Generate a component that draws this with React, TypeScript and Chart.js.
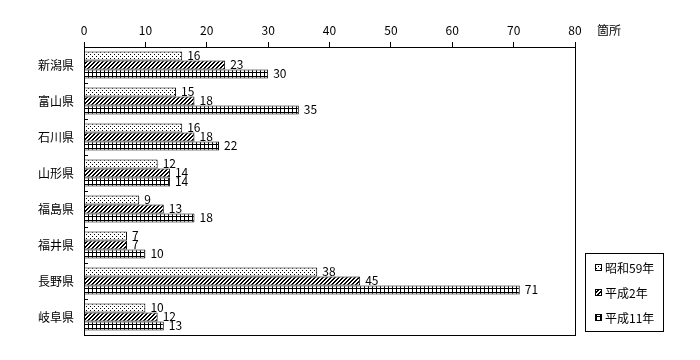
import React, { useEffect, useRef } from 'react';
import { Chart, registerables } from 'chart.js';

Chart.register(...registerables);

const categories = ['新潟県', '富山県', '石川県', '山形県', '福島県', '福井県', '長野県', '岐阜県'];
const seriesNames = ['昭和59年', '平成2年', '平成11年'];
const showa59 = [16, 15, 16, 12, 9, 7, 38, 10];
const heisei2 = [23, 18, 18, 14, 13, 7, 45, 12];
const heisei11 = [30, 35, 22, 14, 18, 10, 71, 13];
const xMin = 0;
const xMax = 80;
const xStep = 10;
const unitLabel = '箇所';

const FONT = '"Noto Sans CJK JP", "DejaVu Sans", sans-serif';

function makePattern(kind: string): CanvasPattern | string {
  const c = document.createElement('canvas');
  c.width = 4;
  c.height = 4;
  const g = c.getContext('2d');
  if (!g) return '#fff';
  g.fillStyle = '#fff';
  g.fillRect(0, 0, 4, 4);
  g.fillStyle = '#000';
  if (kind === 'dots') {
    g.fillRect(0, 0, 1, 1);
    g.fillRect(2, 2, 1, 1);
  } else if (kind === 'hatch') {
    // diagonal "/" lines, 2px thick, period 4
    for (let y = 0; y < 4; y++) {
      const x = (3 - y + 4) % 4;
      g.fillRect(x, y, 1, 1);
      g.fillRect((x + 1) % 4, y, 1, 1);
    }
  } else if (kind === 'grid') {
    g.fillRect(0, 0, 4, 1);
    g.fillRect(0, 0, 1, 4);
  }
  const p = g.createPattern(c, 'repeat');
  return p || '#fff';
}

export default function App() {
  const ref = useRef<HTMLCanvasElement | null>(null);

  useEffect(() => {
    document.body.style.margin = '0';
    const canvas = ref.current;
    if (!canvas) return;
    const patterns = [makePattern('dots'), makePattern('hatch'), makePattern('grid')];
    const seriesData = [showa59, heisei2, heisei11];

    const overlay = {
      id: 'overlay',
      afterDatasetsDraw(chart: any) {
        const ctx = chart.ctx as CanvasRenderingContext2D;
        const area = chart.chartArea;
        ctx.save();
        // value labels
        ctx.font = `12px ${FONT}`;
        ctx.fillStyle = '#000';
        ctx.textAlign = 'left';
        ctx.textBaseline = 'middle';
        chart.data.datasets.forEach((ds: any, di: number) => {
          const meta = chart.getDatasetMeta(di);
          meta.data.forEach((bar: any, i: number) => {
            ctx.fillText(String(ds.data[i]), bar.x + 5, bar.y - 1);
          });
        });
        // plot border
        ctx.strokeStyle = '#000';
        ctx.lineWidth = 1;
        ctx.strokeRect(
          Math.round(area.left) + 0.5,
          Math.round(area.top) + 0.5,
          Math.round(area.right - area.left),
          Math.round(area.bottom - area.top)
        );
        // category boundary ticks (inside)
        const band = (area.bottom - area.top) / categories.length;
        for (let i = 1; i < categories.length; i++) {
          const y = Math.round(area.top + band * i) + 0.5;
          ctx.beginPath();
          ctx.moveTo(area.left, y);
          ctx.lineTo(area.left + 4, y);
          ctx.stroke();
        }
        // unit label
        ctx.textAlign = 'left';
        ctx.font = `12px ${FONT}`;
        ctx.fillText(unitLabel, 597, 30);
        // legend
        const lx = 585.5;
        const ly = 253.5;
        ctx.strokeRect(lx, ly, 78, 78);
        const rows = [268, 293, 318];
        seriesNames.forEach((name, i) => {
          const y = rows[i];
          ctx.fillStyle = patterns[i] as any;
          ctx.fillRect(595, y - 4, 7, 7);
          ctx.strokeStyle = '#000';
          ctx.strokeRect(595.5, y - 3.5, 6, 6);
          ctx.fillStyle = '#000';
          ctx.fillText(name, 605, y);
        });
        ctx.restore();
      },
    };

    const chart = new Chart(canvas, {
      type: 'bar',
      data: {
        labels: categories,
        datasets: seriesNames.map((name, i) => ({
          label: name,
          data: seriesData[i],
          backgroundColor: patterns[i] as any,
          borderColor: '#000',
          borderWidth: 1,
          categoryPercentage: 0.75,
          barPercentage: 1,
        })),
      },
      options: {
        indexAxis: 'y',
        responsive: false,
        maintainAspectRatio: false,
        animation: false,
        layout: { padding: { left: 0, right: 125, top: 0, bottom: 25 } },
        plugins: {
          legend: { display: false },
          tooltip: { enabled: false },
          title: { display: false },
        },
        scales: {
          x: {
            position: 'top',
            min: xMin,
            max: xMax,
            ticks: {
              stepSize: xStep,
              color: '#000',
              font: { size: 12, family: FONT },
              padding: 4,
            },
            grid: {
              display: true,
              drawOnChartArea: false,
              drawTicks: true,
              tickLength: 5,
              color: '#000',
            },
            border: { display: true, color: '#000' },
            afterFit: (s: any) => {
              s.height = 47;
            },
          },
          y: {
            ticks: {
              color: '#000',
              font: { size: 12, family: FONT },
              padding: 10,
            },
            grid: { display: false, drawTicks: false },
            border: { display: true, color: '#000' },
            afterFit: (s: any) => {
              s.width = 84;
            },
          },
        },
      },
      plugins: [overlay],
    });

    return () => chart.destroy();
  }, []);

  return (
    <div style={{ width: 700, height: 360 }}>
      <canvas ref={ref} width={700} height={360} style={{ display: 'block', width: 700, height: 360 }} />
    </div>
  );
}
